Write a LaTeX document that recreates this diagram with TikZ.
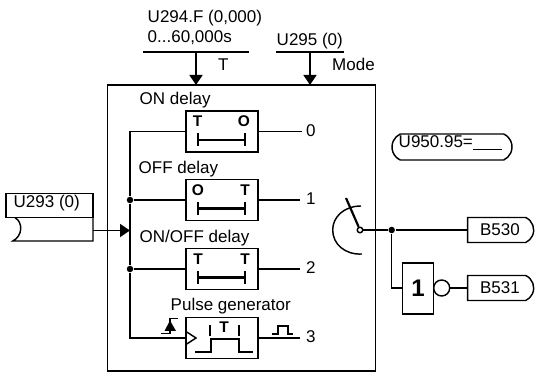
\documentclass[tikz,border=0pt]{standalone}
\usepackage{fontspec}
\setmainfont{Liberation Sans}
\usetikzlibrary{arrows.meta, shapes.misc, positioning}
\tikzstyle{label} = [anchor=base west, inner sep=0pt, font=\fontsize{17}{18}\selectfont]
\tikzstyle{letter} = [anchor=base, inner sep=0pt, font=\fontsize{15.5}{16}\bfseries\selectfont]
\tikzstyle{timer} = [draw, minimum width=72, minimum height=41, inner sep=0pt]
\tikzstyle{tag} = [draw, rounded rectangle, rounded rectangle west arc=none, rounded rectangle arc length=130, minimum width=66, minimum height=25, inner sep=0pt, font=\fontsize{17}{18}\selectfont]
\tikzstyle{arrow} = [-{Triangle[length=10pt,width=13pt]}]
\tikzstyle{bar} = [line width=2.7pt]
\tikzstyle{dot} = [circle, fill=black, inner sep=0pt, minimum size=6.5pt]

\begin{document}
\begin{tikzpicture}[x=1pt,y=-1pt,line width=1.45pt,line join=miter]
\useasboundingbox (0,0) rectangle (536,374);

\node[draw, minimum width=268, minimum height=286, inner sep=0pt] (main) at (241.5,228) {};

\node[label] (ptime) at (147,23) {U294.F (0,000)};
\node[label] (prange) at (147,43) {0...60,000s};
\node[label] (tlabel) at (217.5,70.5) {T};
\node[label] (pmode) at (276,46) {U295 (0)};
\node[label] (modelabel) at (331.5,70.5) {Mode};
\coordinate (tline) at (196,52);
\coordinate (tin) at (196,85);
\coordinate (mline) at (310,52);
\coordinate (min) at (310,85);
\draw (143,52) -- (249,52);
\draw (276,52) -- (344,52);
\draw[arrow] (tline) -- (tin);
\draw[arrow] (mline) -- (min);

\node[draw, minimum width=87, minimum height=24.5, inner sep=0pt] (input) at (49.5,205.5) {};
\node[label] at (13,208) {U293 (0)};
\draw (15,217.7) .. controls (23,222) and (23,236) .. (12.7,241) -- (93,241) -- (93,217.7);
\coordinate (inputout) at (93,230.5);
\coordinate (busin) at (130,230.5);
\draw[arrow] (inputout) -- (busin);

\node[label] (ondelay) at (139,105) {ON delay};
\node[timer] (ton) at (222,131.5) {};
\node[letter] at (197.5,127) {T};
\node[letter] at (244,127) {O};
\draw[bar] (198,133) -- (198,146) (198,140) -- (245,140) (245,133) -- (245,146);

\node[label] (offdelay) at (138,174) {OFF delay};
\node[timer] (toff) at (222,200) {};
\node[letter] at (198,195.5) {O};
\node[letter] at (245,195.5) {T};
\draw[bar] (198,202) -- (198,215) (198,208.5) -- (245,208.5) (245,202) -- (245,215);

\node[label] (onoffdelay) at (139,243) {ON/OFF delay};
\node[timer] (tonoff) at (222,269) {};
\node[letter] at (198,264.5) {T};
\node[letter] at (245,264.5) {T};
\draw[bar] (198,271) -- (198,284) (198,277.5) -- (245,277.5) (245,271) -- (245,284);

\node[label] (pulse) at (170,311) {Pulse generator};
\node[timer] (tpulse) at (222,338) {};
\node[letter] at (224,333) {T};
\draw (186,331.5) -- (196,338) -- (186,344.5);
\draw (210,325) -- (210,336) (239,325) -- (239,336);
\draw[bar] (195,352) -- (211,352) -- (211,339) -- (239,339) -- (239,352) -- (253,352);
\draw (161,333.5) -- (170,333.5) -- (170,318.5) -- (178,318.5);
\fill (164.5,331) -- (170,320.5) -- (176,331) -- cycle;
\draw (272,334) -- (278,334) -- (278,326) -- (288,326) -- (288,334) -- (293,334);

\node[dot] (dotoff) at (130,200) {};
\node[dot] (dotonoff) at (130,269) {};
\draw (ton.west) -- (130,131.5) -- (dotoff) -- (busin) -- (dotonoff) -- (130,338) -- (186,338);
\draw (dotoff) -- (toff.west);
\draw (dotonoff) -- (tonoff.west);

\node[label] (out0) at (305.5,137) {0};
\node[label] (out1) at (305.5,205) {1};
\node[label] (out2) at (305.5,274) {2};
\node[label] (out3) at (305.5,342.5) {3};
\draw (ton.east) -- (302,131.5);
\draw (toff.east) -- (300,200);
\draw (tonoff.east) -- (300,269);
\draw (tpulse.east) -- (300,338);

\node[circle, draw, fill=white, inner sep=0pt, minimum size=5.5pt] (pivot) at (360,230) {};
\coordinate (lever) at (346,198);
\draw[line width=2.2pt] (pivot) -- (lever);
\draw (361,206) .. controls (344,206) and (332.7,217) .. (332.7,230) .. controls (332.7,244) and (345,255) .. (362,254);

\node[tag] (b530) at (500,230) {B530};
\node[tag] (b531) at (500,288) {B531};
\node[dot] (split) at (391.7,230) {};
\node[draw, minimum width=30.5, minimum height=51, inner sep=0pt, font=\fontsize{24}{25}\bfseries\selectfont] (gate) at (418,288.5) {1};
\node[circle, draw, inner sep=0pt, minimum size=16pt] (inv) at (441.7,288) {};
\draw (pivot) -- (split) -- (b530.west);
\draw (split) |- (gate.west |- inv);
\draw (inv) -- (b531.west);

\node[draw, rounded rectangle, rounded rectangle arc length=130, minimum width=120, minimum height=26, inner sep=0pt] (param) at (452,147) {};
\node[label] at (398,148) {U950.95=\underline{\hspace{29pt}}};
\end{tikzpicture}
\end{document}
